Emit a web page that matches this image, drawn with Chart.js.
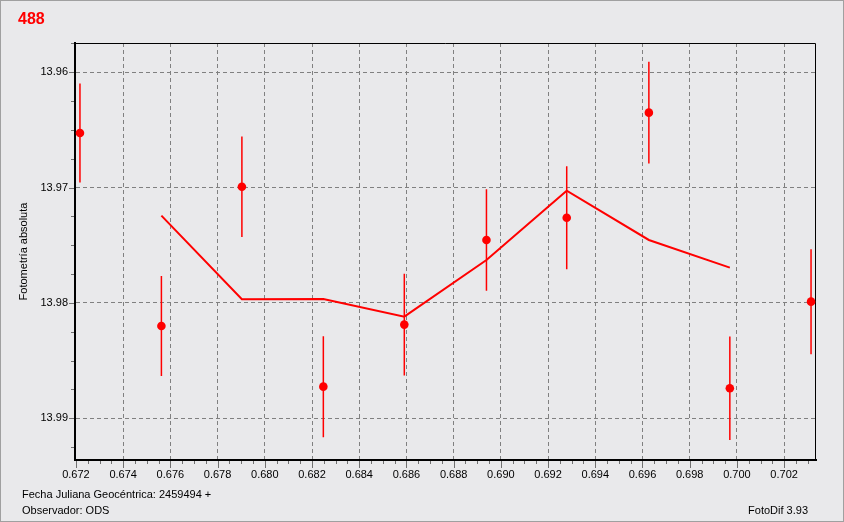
<!DOCTYPE html>
<html>
<head>
<meta charset="utf-8">
<title>488</title>
<script src="https://cdn.jsdelivr.net/npm/chart.js@4.4.1/dist/chart.umd.min.js"></script>
<style>
    html, body { margin: 0; padding: 0; }
    body {
        width: 844px; height: 522px; overflow: hidden; position: relative;
        background: #e9e9eb;
        font-family: "Liberation Sans", Arial, sans-serif;
    }
    #lightCurve { position: absolute; left: 0; top: 0; }
    #frame {
        position: absolute; left: 0; top: 0; width: 842px; height: 520px;
        border: 1px solid #a0a0a0; pointer-events: none;
    }
    .txt { position: absolute; font-size: 11px; line-height: 11px; color: #000; white-space: nowrap; }
    #starTitle { position: absolute; left: 18px; top: 11px; font-size: 16px; line-height: 16px; font-weight: bold; color: #ff0000; }
</style>
</head>
<body>
<canvas id="lightCurve" width="844" height="522"></canvas>
<div id="frame"></div>
<div id="starTitle">488</div>
<div class="txt" style="left:22px; top:489px;">Fecha Juliana Geocéntrica: 2459494 +</div>
<div class="txt" style="left:22px; top:505px;">Observador: ODS</div>
<div class="txt" style="right:36px; top:505px;">FotoDif 3.93</div>

<script>
// observations (JD fraction after 2459494, absolute magnitude, half error)
const jdX = [0.67217, 0.67562, 0.67903, 0.68248, 0.68591, 0.68939, 0.69279, 0.69627, 0.69970, 0.70314];
const magY = [13.96526, 13.98200, 13.96992, 13.98726, 13.98188, 13.97454, 13.97261, 13.96350, 13.98740, 13.97989];
const magErr = [0.00429, 0.00433, 0.00436, 0.00438, 0.00441, 0.00440, 0.00447, 0.00441, 0.00448, 0.00455];

// smoothed curve
const trendX = [0.67562, 0.67903, 0.68248, 0.68591, 0.68939, 0.69279, 0.69627, 0.69970];
const trendY = [13.97243, 13.97968, 13.97966, 13.98119, 13.97628, 13.97027, 13.97454, 13.97694];

// axes
const xMajorTicks = [0.672, 0.674, 0.676, 0.678, 0.680, 0.682, 0.684, 0.686, 0.688, 0.690, 0.692, 0.694, 0.696, 0.698, 0.700, 0.702];
const yMajorTicks = [13.96, 13.97, 13.98, 13.99];
const X_MIN = 0.67196, X_MAX = 0.70335, X_MINOR = 0.0005;
const Y_MIN = 13.95746, Y_MAX = 13.99362, Y_MINOR = 0.0025;

const RED = '#ff0000';
const GRID = '#808080';

function isMajor(v, majors) {
    return majors.some(m => Math.abs(m - v) < 1e-7);
}

function buildTicks(min, max, step) {
    const out = [];
    const first = Math.ceil(min / step - 1e-6);
    for (let i = first; i * step <= max + 1e-9; i++) {
        out.push({ value: Math.round(i * step * 1e6) / 1e6 });
    }
    return out;
}

// error bars + top/right frame
const errorBars = {
    id: 'errorBars',
    beforeDatasetsDraw(chart) {
        const { ctx, chartArea: a, scales: { x, y } } = chart;
        ctx.save();
        ctx.strokeStyle = '#000';
        ctx.lineWidth = 1;
        ctx.beginPath();
        ctx.moveTo(a.left, a.top + 0.5);
        ctx.lineTo(a.right - 0.5, a.top + 0.5);
        ctx.lineTo(a.right - 0.5, a.bottom);
        ctx.stroke();

        ctx.strokeStyle = RED;
        ctx.lineWidth = 1.5;
        ctx.beginPath();
        jdX.forEach((jd, i) => {
            const px = x.getPixelForValue(jd);
            ctx.moveTo(px, y.getPixelForValue(magY[i] - magErr[i]));
            ctx.lineTo(px, y.getPixelForValue(magY[i] + magErr[i]));
        });
        ctx.stroke();
        ctx.restore();
    },
    afterDraw(chart) {
        // major / minor tick marks
        const { ctx, chartArea: a, scales: { x, y } } = chart;
        ctx.save();
        ctx.strokeStyle = '#707070';
        ctx.lineWidth = 1;
        ctx.beginPath();
        x.ticks.forEach(t => {
            const px = Math.round(x.getPixelForValue(t.value)) + 0.5;
            const len = isMajor(t.value, xMajorTicks) ? 7 : 3;
            ctx.moveTo(px, a.bottom + 1);
            ctx.lineTo(px, a.bottom + 1 + len);
        });
        y.ticks.forEach(t => {
            const py = Math.round(y.getPixelForValue(t.value)) + 0.5;
            const len = isMajor(t.value, yMajorTicks) ? 5 : 3;
            ctx.moveTo(a.left - 1, py);
            ctx.lineTo(a.left - 1 - len, py);
        });
        ctx.stroke();
        ctx.restore();
    }
};

const tickFont = { family: '"Liberation Sans", Arial, sans-serif', size: 11 };

new Chart(document.getElementById('lightCurve'), {
    type: 'scatter',
    data: {
        datasets: [
            {
                label: 'Fotometría',
                data: jdX.map((v, i) => ({ x: v, y: magY[i] })),
                backgroundColor: RED,
                borderColor: RED,
                borderWidth: 0,
                pointRadius: 4.3,
                pointStyle: 'circle'
            },
            {
                label: 'Media',
                data: trendX.map((v, i) => ({ x: v, y: trendY[i] })),
                showLine: true,
                borderColor: RED,
                borderWidth: 2,
                pointRadius: 0,
                fill: false
            }
        ]
    },
    options: {
        responsive: false,
        animation: false,
        devicePixelRatio: 1,
        layout: { padding: { top: 43, right: 28, left: 0, bottom: 0 } },
        plugins: { legend: { display: false }, tooltip: { enabled: false } },
        scales: {
            x: {
                type: 'linear',
                min: X_MIN,
                max: X_MAX,
                afterBuildTicks: s => { s.ticks = buildTicks(X_MIN, X_MAX, X_MINOR); },
                afterFit: s => { s.height = 62; },
                ticks: {
                    autoSkip: false,
                    maxRotation: 0,
                    minRotation: 0,
                    padding: 8,
                    color: '#000',
                    font: tickFont,
                    callback: v => isMajor(v, xMajorTicks) ? v.toFixed(3) : ''
                },
                grid: {
                    drawTicks: false,
                    lineWidth: 1,
                    color: c => (c.tick && isMajor(c.tick.value, xMajorTicks)) ? GRID : 'rgba(0,0,0,0)'
                },
                border: { display: true, color: '#000', width: 2, dash: [4, 3] }
            },
            y: {
                type: 'linear',
                reverse: true,
                min: Y_MIN,
                max: Y_MAX,
                afterBuildTicks: s => { s.ticks = buildTicks(Y_MIN, Y_MAX, Y_MINOR); },
                afterFit: s => { s.width = 75; },
                ticks: {
                    autoSkip: false,
                    padding: 7,
                    color: '#000',
                    font: tickFont,
                    callback: v => isMajor(v, yMajorTicks) ? v.toFixed(2) : ''
                },
                grid: {
                    drawTicks: false,
                    lineWidth: 1,
                    color: c => (c.tick && isMajor(c.tick.value, yMajorTicks)) ? GRID : 'rgba(0,0,0,0)'
                },
                border: { display: true, color: '#000', width: 2, dash: [4, 3] },
                title: {
                    display: true,
                    text: 'Fotometría absoluta',
                    color: '#000',
                    font: tickFont,
                    padding: { top: 17, bottom: 0 }
                }
            }
        }
    },
    plugins: [errorBars]
});
</script>
</body>
</html>
